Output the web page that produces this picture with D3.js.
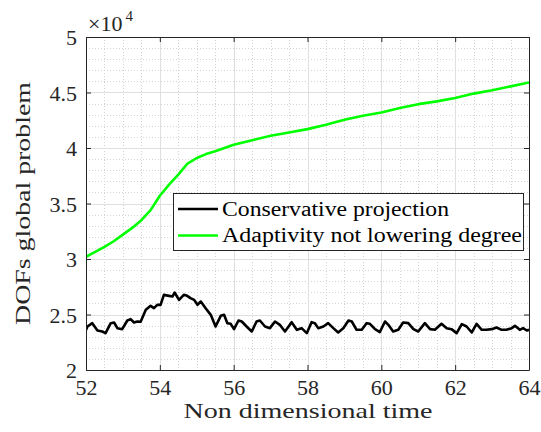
<!DOCTYPE html>
<html>
<head>
<meta charset="utf-8">
<script src="https://cdn.jsdelivr.net/npm/d3@7"></script>
<style>
  html, body { margin: 0; padding: 0; background: #fff; }
  svg { display: block; }
  svg text { font-family: "Liberation Serif", "Tinos", "Times New Roman", "DejaVu Serif", serif; fill: #262626; }
</style>
</head>
<body>
<svg id="chart" width="541" height="432"></svg>
<script>
// ---- Data ----
const seriesNames = ["Conservative projection", "Adaptivity not lowering degree"];
const seriesColors = ["#000000", "#00ff00"];

const conservativeTime = [52.00,52.04,52.17,52.31,52.44,52.53,52.67,52.76,52.85,52.98,53.12,53.21,53.30,53.39,53.48,53.62,53.75,53.84,53.93,54.02,54.11,54.25,54.34,54.40,54.52,54.65,54.74,54.83,54.93,55.02,55.11,55.24,55.38,55.51,55.65,55.74,55.83,55.92,56.01,
  56.13,56.22,56.35,56.49,56.62,56.71,56.85,56.98,57.12,57.25,57.39,57.57,57.71,57.84,57.98,58.11,58.20,58.29,58.43,58.56,58.70,58.83,58.97,59.11,59.20,59.33,59.47,59.60,59.69,59.83,59.96,
  60.10,60.19,60.32,60.46,60.59,60.73,60.87,61.00,61.18,61.32,61.45,61.63,61.77,61.90,62.04,62.18,62.31,62.45,62.58,62.72,62.85,62.99,63.12,63.26,63.39,63.53,63.62,63.75,63.84,63.94,64.00];
const conservativeDofs = [23600,23920,24220,23560,23470,23320,24220,24280,23770,23680,24460,24580,24280,24370,24340,25420,25780,25570,25870,25870,26770,26680,26620,26980,26320,26770,26680,26470,26320,25870,26170,25570,24970,23920,24880,24970,24220,24160,23680,
  24460,24370,23920,23470,24370,24460,23920,23770,24370,24070,23470,24310,23620,23770,23320,24310,24220,23770,23920,24220,23770,23380,23770,24460,24370,23620,23620,24220,24160,23680,23420,
  24370,24070,23470,23620,24280,24220,23680,23470,24220,23680,23620,24160,23770,23680,23320,24130,23920,23380,24160,23620,23620,23680,23830,23620,23620,23770,23980,23620,23770,23560,23620];

const adaptiveTime = [52.0,52.25,52.5,52.75,53.0,53.25,53.5,53.75,54.0,54.25,54.5,54.75,55.0,55.25,55.5,55.75,56.0,56.5,57.0,57.5,58.0,58.5,59.0,59.5,60.0,60.5,61.0,61.5,62.0,62.5,63.0,63.5,64.0];
const adaptiveDofs = [30200,30650,31100,31600,32200,32800,33500,34400,35700,36700,37600,38600,39100,39450,39700,40000,40300,40700,41100,41400,41700,42100,42550,42900,43200,43600,43950,44200,44500,44900,45200,45550,45900];

const xTicks = [52,54,56,58,60,62,64];
const yTicks = [20000,25000,30000,35000,40000,45000,50000];
const yTickLabels = ["2","2.5","3","3.5","4","4.5","5"];
const xLabel = "Non dimensional time";
const yLabel = "DOFs global problem";

// ---- Layout ----
const FONT = '"Liberation Serif", "Tinos", "Times New Roman", "DejaVu Serif", serif';
const svg = d3.select("#chart");
const L = 86, R = 529, T = 37, B = 370;
const x = d3.scaleLinear().domain([52, 64]).range([L, R]);
const y = d3.scaleLinear().domain([20000, 50000]).range([B, T]);

// minor grid
const xMinor = d3.range(52, 64.001, 0.5).filter(v => !xTicks.includes(v));
const yMinor = d3.range(20000, 50001, 1000).filter(v => !yTicks.includes(v));
const grid = svg.append("g");
grid.selectAll(".xm").data(xMinor).enter().append("line")
  .attr("x1", d => Math.round(x(d)) + 0.5).attr("x2", d => Math.round(x(d)) + 0.5)
  .attr("y1", T).attr("y2", B)
  .attr("stroke", "#d4d4d4").attr("stroke-width", 1).attr("stroke-dasharray", "1,2");
grid.selectAll(".ym").data(yMinor).enter().append("line")
  .attr("y1", d => Math.round(y(d)) + 0.5).attr("y2", d => Math.round(y(d)) + 0.5)
  .attr("x1", L).attr("x2", R)
  .attr("stroke", "#d4d4d4").attr("stroke-width", 1).attr("stroke-dasharray", "1,2");
// major grid
grid.selectAll(".xM").data(xTicks).enter().append("line")
  .attr("x1", d => Math.round(x(d)) + 0.5).attr("x2", d => Math.round(x(d)) + 0.5)
  .attr("y1", T).attr("y2", B).attr("stroke", "#dfdfdf").attr("stroke-width", 1);
grid.selectAll(".yM").data(yTicks).enter().append("line")
  .attr("y1", d => Math.round(y(d)) + 0.5).attr("y2", d => Math.round(y(d)) + 0.5)
  .attr("x1", L).attr("x2", R).attr("stroke", "#dfdfdf").attr("stroke-width", 1);

// lines
const clipId = "plotclip";
svg.append("clipPath").attr("id", clipId).append("rect")
  .attr("x", L).attr("y", T).attr("width", R - L).attr("height", B - T);
const lineGen = d3.line().x(d => x(d[0])).y(d => y(d[1]));
const plot = svg.append("g").attr("clip-path", `url(#${clipId})`);
plot.append("path").datum(adaptiveTime.map((t, i) => [t, adaptiveDofs[i]]))
  .attr("d", lineGen).attr("fill", "none").attr("stroke", seriesColors[1])
  .attr("stroke-width", 2.6).attr("stroke-linejoin", "round");
plot.append("path").datum(conservativeTime.map((t, i) => [t, conservativeDofs[i]]))
  .attr("d", lineGen).attr("fill", "none").attr("stroke", seriesColors[0])
  .attr("stroke-width", 2.6).attr("stroke-linejoin", "round");

// axes (ticks inside)
const axCol = "#262626";
const fmtY = d => yTickLabels[yTicks.indexOf(d)];
const xAxB = svg.append("g").attr("transform", `translate(0,${B})`)
  .call(d3.axisBottom(x).tickValues(xTicks).tickSizeInner(-5).tickSizeOuter(0).tickPadding(9).tickFormat(d3.format("d")));
const xAxT = svg.append("g").attr("transform", `translate(0,${T})`)
  .call(d3.axisTop(x).tickValues(xTicks).tickSizeInner(-5).tickSizeOuter(0).tickFormat(""));
const yAxL = svg.append("g").attr("transform", `translate(${L},0)`)
  .call(d3.axisLeft(y).tickValues(yTicks).tickSizeInner(-5).tickSizeOuter(0).tickPadding(9).tickFormat(fmtY));
const yAxR = svg.append("g").attr("transform", `translate(${R},0)`)
  .call(d3.axisRight(y).tickValues(yTicks).tickSizeInner(-5).tickSizeOuter(0).tickFormat(""));
[xAxB, xAxT, yAxL, yAxR].forEach(g => {
  g.attr("font-family", null).attr("font-size", null);
  g.select(".domain").attr("stroke", axCol).attr("stroke-width", 1);
  g.selectAll(".tick line").attr("stroke", axCol).attr("stroke-width", 1);
  g.selectAll(".tick text").attr("fill", axCol).style("font-family", FONT).style("font-size", "22px");
});
xAxB.selectAll(".tick text").attr("dy", "0.71em");
yAxL.selectAll(".tick text").attr("dy", "0.35em");

// exponent label
const ex = svg.append("text").attr("x", 88).attr("y", 31).style("font-family", FONT).style("font-size", "22px");
ex.append("tspan").text("×10");
ex.append("tspan").attr("dx", 3).attr("dy", -10).style("font-size", "15px").text("4");

// axis labels
svg.append("text").attr("x", (L + R) / 2 + 0.5).attr("y", 418).attr("text-anchor", "middle")
  .style("font-family", FONT).style("font-size", "22px")
  .attr("textLength", 249).attr("lengthAdjust", "spacingAndGlyphs").text(xLabel);
svg.append("text").attr("transform", `translate(30,${(T + B) / 2}) rotate(-90)`).attr("text-anchor", "middle")
  .style("font-family", FONT).style("font-size", "22px")
  .attr("textLength", 243).attr("lengthAdjust", "spacingAndGlyphs").text(yLabel);

// legend
const lg = svg.append("g");
lg.append("rect").attr("x", 173.5).attr("y", 193.5).attr("width", 350).attr("height", 57)
  .attr("fill", "#fff").attr("stroke", axCol).attr("stroke-width", 1);
const legLens = [227, 300];
seriesNames.forEach((name, i) => {
  const cy = 209 + i * 26.5;
  lg.append("line").attr("x1", 178).attr("x2", 218).attr("y1", cy).attr("y2", cy)
    .attr("stroke", seriesColors[i]).attr("stroke-width", 2.6);
  lg.append("text").attr("x", 222).attr("y", cy).attr("dy", "0.33em")
    .style("font-family", FONT).style("font-size", "20px")
    .attr("textLength", legLens[i]).attr("lengthAdjust", "spacingAndGlyphs")
    .style("fill", "#000").text(name);
});
</script>
</body>
</html>
